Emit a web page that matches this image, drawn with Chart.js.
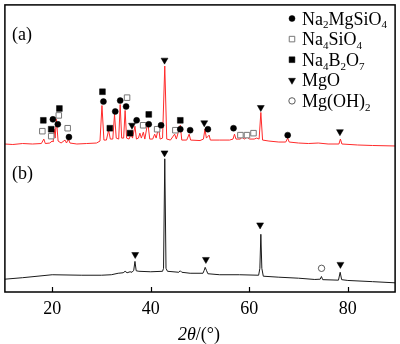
<!DOCTYPE html>
<html>
<head>
<meta charset="utf-8">
<script src="https://cdn.jsdelivr.net/npm/chart.js@4/dist/chart.umd.min.js"></script>
<style>
    html, body { margin: 0; padding: 0; background: #fff; }
    canvas { display: block; }
</style>
</head>
<body>
<canvas id="xrdChart" width="400" height="344"></canvas>
<script>
// --- DATA: 2θ (degrees) and intensity (arbitrary units) ---
const thetaA = [10.4, 12, 14, 16, 17.8, 18.3, 18.6, 19.5, 20.0, 20.2, 20.4, 20.6, 20.85, 21.2, 21.8, 22.6, 22.9, 23.3, 23.6,
    25, 27, 29, 29.7, 30.1, 30.5, 31.0, 31.45, 31.8, 32.3, 32.65, 33.0, 33.5, 33.8, 34.1, 34.5, 34.8, 35.1, 35.6,
    36.0, 36.3, 36.8, 37.1, 37.5, 37.8, 38.1, 38.5, 38.8, 39.4, 39.8, 40.4, 40.8, 41.1, 41.6, 41.9, 42.4, 42.85,
    43.25, 44, 44.85, 45.2, 46.0, 46.3, 47.3, 47.8, 48.1, 50, 50.7, 51.0, 51.3, 51.85, 52.1, 54, 56, 56.7, 57.0,
    57.3, 58.2, 58.5, 59.0, 59.6, 60.0, 61.0, 61.5, 62.0, 62.35, 62.7, 64, 66, 67.4, 67.8, 68.1, 70, 72, 74, 76,
    78.2, 78.5, 78.8, 82, 85, 89.6];
const countsA = [150, 149.5, 150.5, 150, 150.5, 155, 150.5, 151, 153, 152, 165, 156, 175, 153, 151, 154, 151, 155, 151,
    150, 150.5, 151, 153, 189, 154, 154, 164, 155, 155, 180, 156, 155, 190, 156, 156, 184, 156, 155,
    160, 156, 168, 155, 156, 161, 156, 162, 155, 172, 155, 155, 160, 156, 167, 155, 156, 229,
    155, 154, 160, 155, 169, 154, 154, 160, 154, 153.5, 155, 165, 156, 159, 154, 154, 154, 155, 160,
    155, 155, 157, 155, 157, 155, 155, 156, 155, 182, 154, 153, 152, 152, 156, 152, 151, 150.5, 151, 150,
    150, 155, 150, 149, 148.5, 148];

const thetaB = [10.4, 14, 20, 26, 30, 32, 33.4, 34.4, 34.8, 35.2, 35.8, 36.2, 36.55, 36.8, 37.05, 37.6, 40, 42.4, 42.6,
    42.85, 43.1, 43.4, 45.7, 46.0, 46.3, 48, 50.6, 50.85, 51.05, 51.3, 51.6, 54, 58, 61.9, 62.15, 62.35, 62.55,
    62.85, 66, 70, 73.3, 74.4, 74.65, 74.9, 78.1, 78.45, 78.75, 80, 85, 89.6];
const countsB = [13, 14.5, 17.5, 17, 17, 17.5, 19, 19.5, 21, 19.5, 20.5, 20, 22, 31, 21.5, 21, 20.5, 21, 24,
    135, 24, 21, 20, 21.5, 20, 19, 19, 22, 25, 22, 18.5, 17.5, 17.5, 17, 24, 58.5, 24,
    16, 15, 14, 12.7, 13, 15.7, 12.5, 12, 20, 12.5, 11.7, 10.5, 9.3];

// phase markers: [2θ, height]
const na2mgsio4A = [[20.14, 175], [21.14, 170], [23.4, 157], [30.4, 193], [32.8, 183], [33.8, 194], [35.0, 188],
    [37.14, 174], [39.6, 170], [42.1, 169], [46.0, 165], [48.0, 164], [51.6, 165], [56.8, 166], [67.8, 159]];
const na4sio4A = [[18.0, 163], [19.8, 158], [21.34, 179], [23.14, 166], [35.2, 197], [38.46, 169], [41.3, 165],
    [45.0, 164], [58.2, 159], [59.54, 159], [60.86, 161]];
const na4b2o7A = [[18.2, 174], [19.8, 165], [21.46, 186], [30.2, 203], [31.7, 166], [35.8, 161], [39.6, 180], [46.0, 174]];
const mgoA = [[36.2, 169], [42.8, 235], [50.86, 171.5], [62.34, 187], [78.4, 162.5]];
const mgoB = [[36.85, 38], [42.8, 141], [51.2, 33], [62.2, 68], [78.5, 28]];
const mgoh2B = [[74.67, 24]];

const xTicks = [20, 40, 60, 80];
const phaseNames = ['Na2MgSiO4', 'Na4SiO4', 'Na4B2O7', 'MgO', 'Mg(OH)2'];
const panelNames = ['(a)', '(b)'];

const SERIF = "'Liberation Serif', 'Times New Roman', serif";

// marker styles, shared between plot and legend
const markerStyles = [
    { pointStyle: 'circle', radius: 3, rotation: 0, fill: '#000', stroke: '#000', lw: 0.5 },
    { pointStyle: 'rect', radius: 3.9, rotation: 0, fill: '#fff', stroke: '#777', lw: 1 },
    { pointStyle: 'rect', radius: 4.1, rotation: 0, fill: '#000', stroke: '#000', lw: 0.5 },
    { pointStyle: 'triangle', radius: 4, rotation: 180, fill: '#000', stroke: '#000', lw: 0.5 },
    { pointStyle: 'circle', radius: 3.2, rotation: 0, fill: '#fff', stroke: '#333', lw: 0.8 }
];

function toXY(list) {
    return list.map(p => ({ x: p[0], y: p[1] }));
}
function zipXY(xs, ys) {
    return xs.map((x, i) => ({ x: x, y: ys[i] }));
}
function markerSet(list, s) {
    return {
        type: 'scatter', data: toXY(list), order: 1,
        pointStyle: s.pointStyle, pointRadius: s.radius, pointRotation: s.rotation,
        pointBackgroundColor: s.fill, pointBorderColor: s.stroke, pointBorderWidth: s.lw,
        pointHoverRadius: s.radius
    };
}

// draw a marker by hand (legend)
function drawMarker(ctx, s, x, y) {
    ctx.save();
    ctx.fillStyle = s.fill;
    ctx.strokeStyle = s.stroke;
    ctx.lineWidth = s.lw;
    ctx.beginPath();
    if (s.pointStyle === 'circle') {
        ctx.arc(x, y, s.radius, 0, Math.PI * 2);
    } else if (s.pointStyle === 'rect') {
        const h = s.radius * Math.SQRT1_2;
        ctx.rect(x - h, y - h, 2 * h, 2 * h);
    } else {
        const r = s.radius;
        ctx.moveTo(x, y + r);
        ctx.lineTo(x - r * Math.sin(Math.PI / 3), y - r / 2);
        ctx.lineTo(x + r * Math.sin(Math.PI / 3), y - r / 2);
        ctx.closePath();
    }
    ctx.fill();
    ctx.stroke();
    ctx.restore();
}

// text with every digit set as a subscript
function drawFormula(ctx, text, x, y, size) {
    let cx = x;
    for (const ch of text) {
        const sub = /[0-9]/.test(ch);
        ctx.font = (sub ? Math.round(size * 0.62) : size) + 'px ' + SERIF;
        ctx.fillText(ch, cx, sub ? y + size * 0.22 : y);
        cx += ctx.measureText(ch).width;
    }
}

const decorPlugin = {
    id: 'decor',
    afterDraw(chart) {
        const ctx = chart.ctx;
        const a = chart.chartArea;
        const xs = chart.scales.x;
        ctx.save();
        // frame
        ctx.strokeStyle = '#000';
        ctx.lineWidth = 1.5;
        ctx.strokeRect(a.left, a.top, a.right - a.left, a.bottom - a.top);
        // inward ticks
        ctx.lineWidth = 1.2;
        xTicks.forEach(t => {
            const px = Math.round(xs.getPixelForValue(t)) + 0.5;
            ctx.beginPath();
            ctx.moveTo(px, a.bottom);
            ctx.lineTo(px, a.bottom - 5);
            ctx.stroke();
        });
        // panel labels
        ctx.fillStyle = '#000';
        ctx.textBaseline = 'alphabetic';
        ctx.textAlign = 'left';
        ctx.font = '18px ' + SERIF;
        ctx.fillText(panelNames[0], 12, 40);
        ctx.fillText(panelNames[1], 12, 179);
        // legend
        phaseNames.forEach((name, i) => {
            const y = 18.5 + i * 20.6;
            drawMarker(ctx, markerStyles[i], 292, y);
            ctx.fillStyle = '#000';
            drawFormula(ctx, name, 302, y + 6, 18);
        });
        // axis title: italic 2θ, upright /(°)
        ctx.font = 'italic 18px ' + SERIF;
        const w1 = ctx.measureText('2θ').width;
        ctx.font = '18px ' + SERIF;
        const w2 = ctx.measureText('/(°)').width;
        const x0 = 199 - (w1 + w2) / 2;
        ctx.font = 'italic 18px ' + SERIF;
        ctx.fillText('2θ', x0, 340);
        ctx.font = '18px ' + SERIF;
        ctx.fillText('/(°)', x0 + w1, 340);
        ctx.restore();
    }
};

new Chart(document.getElementById('xrdChart'), {
    type: 'scatter',
    data: {
        datasets: [
            {
                type: 'line', data: zipXY(thetaA, countsA), order: 2,
                borderColor: '#ff2a2a', borderWidth: 1, pointRadius: 0, tension: 0, fill: false
            },
            {
                type: 'line', data: zipXY(thetaB, countsB), order: 2,
                borderColor: '#1a1a1a', borderWidth: 1, pointRadius: 0, tension: 0, fill: false
            },
            markerSet(na2mgsio4A, markerStyles[0]),
            markerSet(na4sio4A, markerStyles[1]),
            markerSet(na4b2o7A, markerStyles[2]),
            markerSet(mgoA, markerStyles[3]),
            markerSet(mgoB, markerStyles[3]),
            markerSet(mgoh2B, markerStyles[4])
        ]
    },
    options: {
        responsive: false,
        animation: false,
        layout: { padding: { left: 2, right: 2, top: 1, bottom: 0 } },
        plugins: { legend: { display: false }, tooltip: { enabled: false } },
        scales: {
            x: {
                type: 'linear', min: 10.4, max: 89.6,
                grid: { display: false, drawTicks: false },
                border: { display: false },
                ticks: {
                    stepSize: 20, includeBounds: false, padding: 6, color: '#000',
                    font: { family: SERIF, size: 18 }
                },
                afterFit: (scale) => { scale.height = 52; }
            },
            y: {
                display: false, min: 0, max: 291
            }
        }
    },
    plugins: [decorPlugin]
});
</script>
</body>
</html>
